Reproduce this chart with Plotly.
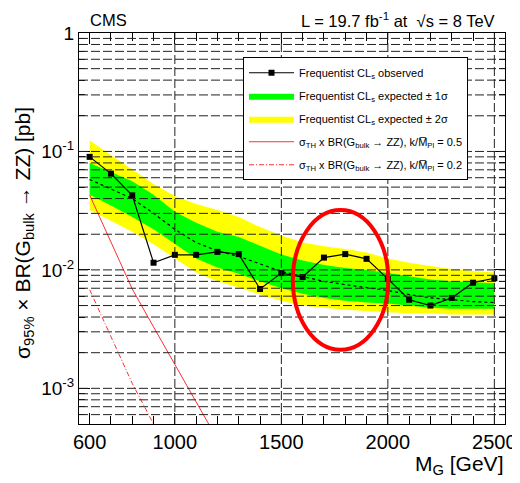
import numpy as np
import plotly.graph_objects as go

# ---------------- data ----------------
mass = [600, 700, 800, 900, 1000, 1100, 1200, 1300, 1400, 1500,
        1600, 1700, 1800, 1900, 2000, 2100, 2200, 2300, 2400, 2500]
observed = [0.090, 0.065, 0.0426, 0.0115, 0.0134, 0.0134, 0.0142, 0.0136, 0.0069, 0.0094,
            0.0087, 0.0127, 0.0136, 0.0124, 0.0084, 0.0056, 0.0050, 0.0058, 0.0078, 0.0085]
expected = [0.058, 0.048, 0.040, 0.030, 0.022, 0.0170, 0.0145, 0.0130, 0.0112, 0.0097,
            0.0088, 0.0080, 0.0075, 0.0071, 0.0067, 0.0062, 0.0058, 0.0056, 0.0054, 0.0053]
exp_p1 = [0.080, 0.067, 0.056, 0.043, 0.031, 0.025, 0.021, 0.019, 0.0160, 0.0135,
          0.0120, 0.0110, 0.0104, 0.0100, 0.0094, 0.0088, 0.0083, 0.0080, 0.0078, 0.0077]
exp_m1 = [0.043, 0.035, 0.028, 0.022, 0.0165, 0.0125, 0.0105, 0.0093, 0.0080, 0.0070,
          0.0063, 0.0058, 0.0055, 0.0053, 0.0052, 0.0050, 0.0048, 0.0047, 0.0047, 0.0047]
exp_p2 = [0.124, 0.093, 0.070, 0.053, 0.042, 0.036, 0.032, 0.028, 0.023, 0.0195,
          0.0170, 0.0158, 0.0150, 0.0140, 0.0125, 0.0115, 0.0108, 0.0102, 0.0098, 0.0095]
exp_m2 = [0.032, 0.026, 0.021, 0.0165, 0.0125, 0.0095, 0.0080, 0.0071, 0.0062, 0.0055,
          0.0050, 0.0048, 0.0046, 0.0045, 0.0044, 0.0043, 0.0043, 0.0042, 0.0042, 0.0042]

th_mass = [600, 700, 800, 900, 1000, 1100, 1200]
theory_k05 = [0.0428, 0.0171, 0.0069, 0.0033, 0.00158, 0.00076, 0.00037]
theory_k02 = [0.0068, 0.0027, 0.0011, 0.00050, 0.00024, 0.00012, 0.00006]

x_ticks = [600, 1000, 1500, 2000, 2500]
x_grid = [1000, 1500, 2000, 2500]
y_ticks = [1e-3, 1e-2, 1e-1, 1]
y_ticktext = ["10<sup>-3</sup>", "10<sup>-2</sup>", "10<sup>-1</sup>", "1"]
x_range = [550, 2550]
y_range = [5e-4, 1]

FONT = "Liberation Sans, Arial, Helvetica, sans-serif"

fig = go.Figure()

# 2 sigma band
fig.add_trace(go.Scatter(
    x=mass + mass[::-1], y=exp_p2 + exp_m2[::-1], fill="toself",
    fillcolor="#ffff00", line=dict(width=0), mode="lines", legendgroup="g3",
    name="Frequentist CL<sub>s</sub> expected ± 2σ", legendrank=3, hoverinfo="skip"))
# 1 sigma band
fig.add_trace(go.Scatter(
    x=mass + mass[::-1], y=exp_p1 + exp_m1[::-1], fill="toself",
    fillcolor="#00ff00", line=dict(width=0), mode="lines", legendgroup="g2",
    name="Frequentist CL<sub>s</sub> expected ± 1σ", legendrank=2, hoverinfo="skip"))
# expected
fig.add_trace(go.Scatter(
    x=mass, y=expected, mode="lines", line=dict(color="black", width=1.2, dash="3px,3px"),
    showlegend=False))
# theory
fig.add_trace(go.Scatter(
    x=th_mass, y=theory_k05, mode="lines", line=dict(color="#ff3030", width=1),
    legendgroup="g4",
    name="σ<sub>TH</sub> x BR(G<sub>bulk</sub> → ZZ), k/M̅<sub>Pl</sub> = 0.5", legendrank=4))
fig.add_trace(go.Scatter(
    x=th_mass, y=theory_k02, mode="lines", line=dict(color="#ff3030", width=1, dash="5px,2px,1px,2px"),
    legendgroup="g5",
    name="σ<sub>TH</sub> x BR(G<sub>bulk</sub> → ZZ), k/M̅<sub>Pl</sub> = 0.2", legendrank=5))
# observed
fig.add_trace(go.Scatter(
    x=mass, y=observed, mode="lines+markers",
    line=dict(color="black", width=1.2),
    marker=dict(symbol="square", size=6, color="black"), legendgroup="g1",
    name="Frequentist CL<sub>s</sub> observed", legendrank=1))

# grid lines drawn above the bands
shapes = []
grid_dash = "9px,3px"
for e in range(-4, 1):
    for d in range(1, 10):
        v = d * 10.0 ** e
        if y_range[0] < v < y_range[1]:
            shapes.append(dict(type="line", xref="paper", yref="y", x0=0, x1=1,
                               y0=v, y1=v, layer="above",
                               line=dict(color="#222222", width=1, dash=grid_dash)))
for gx in x_grid:
    shapes.append(dict(type="line", xref="x", yref="paper", x0=gx, x1=gx, y0=0, y1=1,
                       layer="above", line=dict(color="#222222", width=1, dash=grid_dash)))
# red ellipse highlight
shapes.append(dict(type="circle", xref="paper", yref="paper", x0=0.502, x1=0.726,
                   y0=0.190, y1=0.547, layer="above", line=dict(color="#ff0000", width=4)))

minor_y = [d * 10.0 ** e for e in range(-4, 0) for d in range(2, 10)
           if y_range[0] <= d * 10.0 ** e <= y_range[1]]

# the page body adds an 8px offset, so the figure is 8px smaller
fig.update_layout(
    template="none",
    width=512, height=475,
    margin=dict(l=71.4, r=15.4, t=24.7, b=58.7, autoexpand=False),
    paper_bgcolor="white", plot_bgcolor="white",
    font=dict(family=FONT, color="black"),
    shapes=shapes,
    showlegend=True,
    legend=dict(x=0.385, y=0.938, xanchor="left", yanchor="top",
                bgcolor="white", bordercolor="black", borderwidth=1,
                font=dict(size=11, family=FONT), itemwidth=45,
                tracegroupgap=4),
    xaxis=dict(type="linear", range=x_range, tickmode="array", tickvals=x_ticks,
               ticks="inside", ticklen=11, tickcolor="black", showgrid=False,
               showline=True, linecolor="black", linewidth=1, mirror="ticks",
               zeroline=False, tickfont=dict(size=20, family=FONT), automargin=False,
               minor=dict(dtick=100, tick0=0, ticks="inside", ticklen=8, tickcolor="black",
                          showgrid=False),
               layer="above traces"),
    yaxis=dict(type="log", range=[np.log10(y_range[0]), np.log10(y_range[1])],
               tickmode="array", tickvals=y_ticks, ticktext=y_ticktext,
               ticks="inside", ticklen=11, tickcolor="black", showgrid=False,
               showline=True, linecolor="black", linewidth=1, mirror="ticks",
               zeroline=False, tickfont=dict(size=19, family=FONT), automargin=False,
               minor=dict(tickmode="array", tickvals=minor_y, ticks="inside", ticklen=6,
                          tickcolor="black", showgrid=False),
               layer="above traces"),
    annotations=[
        dict(text="CMS", xref="paper", yref="paper", x=0.02, y=1.033,
             xanchor="left", yanchor="middle", showarrow=False,
             font=dict(size=16.5, family=FONT)),
        dict(text="L = 19.7 fb<sup>-1</sup> at  √s = 8 TeV", xref="paper", yref="paper",
             x=0.982, y=1.033, xanchor="right", yanchor="middle", showarrow=False,
             font=dict(size=16.5, family=FONT)),
        dict(text="M<sub>G</sub> [GeV]", xref="paper", yref="paper", x=1.0, y=-0.104,
             xanchor="right", yanchor="middle", showarrow=False,
             font=dict(size=21, family=FONT)),
        dict(text="σ<sub>95%</sub> × BR(G<sub>bulk</sub> → ZZ) [pb]", xref="paper", yref="paper",
             x=-0.128, y=0.49, xanchor="center", yanchor="middle", textangle=-90,
             showarrow=False, font=dict(size=21, family=FONT)),
    ],
)

fig.write_html("out.html")
